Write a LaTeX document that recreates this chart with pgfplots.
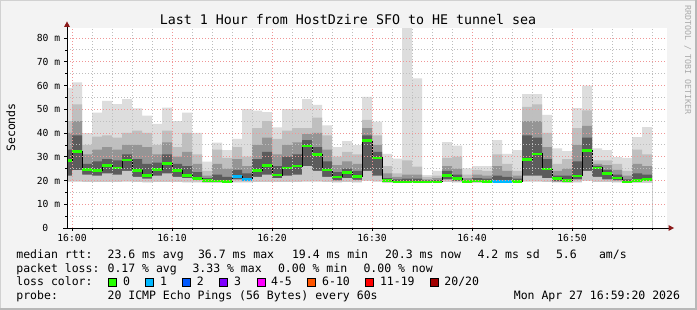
\documentclass[border=0pt]{standalone}
\usepackage{pgfplots}
\pgfplotsset{compat=1.18}
\usepackage{pgfplotstable}
\usepackage{fontspec}
\setmainfont{DejaVu Sans Mono}
\definecolor{bgc}{HTML}{F3F3F3}
\definecolor{s1}{HTML}{DDDDDD}
\definecolor{s2}{HTML}{BFBFBF}
\definecolor{s3}{HTML}{959595}
\definecolor{s4}{HTML}{5C5C5C}
\definecolor{s0}{HTML}{C8C8C8}
\definecolor{lc0}{HTML}{26FF00}
\definecolor{lc1}{HTML}{00B8FF}
\definecolor{lc2}{HTML}{0059FF}
\definecolor{lc3}{HTML}{7E00FF}
\definecolor{lc4}{HTML}{FF00FF}
\definecolor{lc5}{HTML}{FF5500}
\definecolor{lc6}{HTML}{FF0000}
\definecolor{lc7}{HTML}{A10000}
\definecolor{mgrid}{HTML}{F09696}
\definecolor{ngrid}{HTML}{BEBEBE}
\definecolor{arr}{HTML}{8B1A1A}
\definecolor{wm}{HTML}{AAAAAA}

\pgfplotstableread{
t mn lo med hi1 hi2 hi3 mx
-1 19.5 22 28.5 33 40 45 59
0 19.5 24.4 32.1 39 45 52 61.3
1 19.3 22.5 24.6 27 31 35 39.9
2 19.3 22 24.3 28 33 38.5 48.6
3 19.3 23 26.4 29 34 39 53.5
4 19.3 22.5 25.3 28.5 33 38 52.2
5 19.5 24 28.6 31 35 40 54.3
6 19.3 21.5 24.1 29 35 41 50.4
7 19.2 20.8 22.2 27 34 40 47.3
8 19.3 22 24.6 27.5 31 35 43.8
9 19.3 23 27.1 31 36 41 50.7
10 19.3 21.5 24.3 27 30 34 45
11 19.2 21 22.2 26 32 40 48.6
12 19.2 20.3 20.9 23.5 27 31 40.1
13 19.0 19.6 19.9 21 22 24 27.9
14 19.0 19.5 19.8 22.5 27 33 35.9
15 19.0 19.3 19.5 21.5 25 29.5 32.8
16 19.2 20.5 21.6 24.5 29 34 37.5
17 19.2 20 20.5 23 26 30 50.1
18 19.3 21.5 24.1 29 35 42 49.4
19 19.3 22.5 26.4 32 38 45 48.8
20 19.3 21 22.3 26 31 37.5 42.4
21 19.3 22 25.3 30 35 41 50.1
22 19.3 22.5 26.1 31 36 42 50.1
23 19.5 26 34.5 37 39.5 42 54.3
24 19.5 24 30.9 34 40 46.5 51.8
25 19.3 21.5 24.4 28 33 39 43.2
26 19.2 20 21.5 23.5 26.5 30 34.1
27 19.3 21 23.3 25 28 32 36.6
28 19.2 20.3 21.8 24 27 31 34.9
29 19.8 24 36.8 39 42 45.5 55.2
30 19.5 22 29.5 32 35 39 44.8
31 19.0 19.6 19.9 21 23 26 31.2
32 19.0 19.3 19.4 20.5 21.5 23 29.2
33 19.0 19.3 19.4 20.8 22.5 28.5 84.2
34 19.0 19.3 19.4 20.8 22.5 25.8 63
35 19.0 19.3 19.4 20 20.5 21.5 22.3
36 19.0 19.3 19.4 20.2 21 22 24
37 19.3 20.5 22.2 24 26 29.5 36.2
38 19.2 19.8 20.8 22.5 25 30 34.7
39 19.0 19.3 19.5 20.3 21 22.5 25.1
40 19.0 19.4 19.8 21 22.5 24.5 26
41 19.0 19.3 19.6 20.8 22 24 26
42 19.0 19.3 19.6 22 26 31 37
43 19.0 19.3 19.6 21.5 24 27 31.2
44 19.0 19.3 19.6 20.8 22 24 32.8
45 19.5 22 28.9 39 45 51 56.4
46 19.5 22 31.2 38 45 52 56.4
47 19.3 21 24.8 29 34 40 47.6
48 19.2 19.6 20.8 22 24 27 33.5
49 19.0 19.5 19.9 22 25 29 32.4
50 19.2 20.5 21.9 28 35 42 50.5
51 19.8 24 32.6 38 43 49.5 59.9
52 19.3 21.5 25.3 26.2 27 28.5 33.5
53 19.3 20.5 22.9 24.5 26.5 28.5 32.8
54 19.2 20 21.1 22.5 24.5 27 29.8
55 19.0 19.2 19.4 20.5 22 24 29.5
56 19.0 19.5 19.9 23 27 33 38.3
57 19.0 19.8 20.3 22.5 26 31 42.5
58 19.0 19.8 20.3 22.5 26 31 42.5
}\smoke

\newcommand\lf{\fontsize{11.5bp}{13bp}\selectfont}
\newcommand\af{\fontsize{9.7bp}{11bp}\selectfont}

\begin{document}
\begin{tikzpicture}[txt/.style={inner sep=0pt, outer sep=0pt, font=\lf}]
% canvas
\fill[bgc] (0,0) rectangle (697bp,310bp);
\fill[black!18] (0,309bp) rectangle (697bp,310bp);
\fill[black!18] (0,0) rectangle (1bp,310bp);
\fill[black!28] (695bp,0) rectangle (697bp,310bp);
\fill[black!28] (0,0) rectangle (697bp,2bp);

\begin{axis}[
  at={(67bp,82bp)}, anchor=south west,
  scale only axis, width=600bp, height=200bp,
  xmin=-0.5, xmax=59.5, ymin=0, ymax=84.21,
  enlargelimits=false,
  axis background/.style={fill=white},
  axis x line*=bottom, axis y line*=left,
  axis line style={black, line width=0.9bp},
  xtick={0,10,20,30,40,50},
  minor xtick={2,4,6,8,12,14,16,18,22,24,26,28,32,34,36,38,42,44,46,48,52,54,56,58},
  ytick={10,20,30,40,50,60,70,80},
  minor ytick={5,15,25,35,45,55,65,75},
  xticklabels={}, yticklabels={},
  tick align=outside,
  major tick length=3bp, minor tick length=2bp,
  tick style={black, line width=0.7bp},
  grid=both,
  major grid style={draw=mgrid, dash pattern=on 1bp off 2bp, line width=0.8bp},
  minor grid style={draw=ngrid, dash pattern=on 1bp off 2bp, line width=0.8bp},
  axis on top,
]
\addplot[draw=none, fill=s1, const plot mark left] table[x=t, y=mx] {\smoke} \closedcycle;
\addplot[draw=none, fill=s2, const plot mark left] table[x=t, y=hi3] {\smoke} \closedcycle;
\addplot[draw=none, fill=s3, const plot mark left] table[x=t, y=hi2] {\smoke} \closedcycle;
\addplot[draw=none, fill=s4, const plot mark left] table[x=t, y=hi1] {\smoke} \closedcycle;
\addplot[draw=none, fill=s0, const plot mark left] table[x=t, y=lo] {\smoke} \closedcycle;
\addplot[draw=none, fill=white, const plot mark left] table[x=t, y=mn] {\smoke} \closedcycle;
\addplot[black, line width=1bp, const plot mark left] table[x=t, y=med] {\smoke};
\addplot[lc0, line width=2.7bp, jump mark left] table[x=t, y=med] {\smoke};
\addplot[lc1, line width=2.7bp, jump mark left] coordinates {(16,21.6) (17,20.5) (18,20.5)};
\addplot[lc1, line width=2.7bp, jump mark left] coordinates {(42,19.6) (43,19.6) (44,19.6)};
\end{axis}

% axis arrows
\draw[black, line width=0.9bp] (63bp,82bp) -- (669bp,82bp);
\fill[arr] (674bp,82bp) -- (668.5bp,85bp) -- (668.5bp,79bp) -- cycle;
\draw[black, line width=0.9bp] (67bp,282bp) -- (67bp,284bp);
\fill[arr] (67bp,288.5bp) -- (64bp,283bp) -- (70bp,283bp) -- cycle;

% title
\node[txt, anchor=base, font=\fontsize{13.3bp}{15bp}\selectfont] at (348bp,285.3bp) {Last 1 Hour from HostDzire SFO to HE tunnel sea};

% watermark
\node[txt, anchor=base, rotate=-90, text=wm, font=\fontsize{8.3bp}{9bp}\selectfont] at (685bp,250bp) {RRDTOOL / TOBI OETIKER};

% y label
\node[txt, anchor=base, rotate=90] at (15bp,182.5bp) {Seconds};

% y tick labels
\node[txt, anchor=east, font=\af] at (48.2bp,82bp) {0};
\node[txt, anchor=east, font=\af] at (60.2bp,105.75bp) {10 m};
\node[txt, anchor=east, font=\af] at (60.2bp,129.5bp) {20 m};
\node[txt, anchor=east, font=\af] at (60.2bp,153.25bp) {30 m};
\node[txt, anchor=east, font=\af] at (60.2bp,177bp) {40 m};
\node[txt, anchor=east, font=\af] at (60.2bp,200.75bp) {50 m};
\node[txt, anchor=east, font=\af] at (60.2bp,224.5bp) {60 m};
\node[txt, anchor=east, font=\af] at (60.2bp,248.25bp) {70 m};
\node[txt, anchor=east, font=\af] at (60.2bp,272bp) {80 m};

% x tick labels
\node[txt, anchor=base, font=\af] at (72bp,68.8bp) {16:00};
\node[txt, anchor=base, font=\af] at (172bp,68.8bp) {16:10};
\node[txt, anchor=base, font=\af] at (272bp,68.8bp) {16:20};
\node[txt, anchor=base, font=\af] at (372bp,68.8bp) {16:30};
\node[txt, anchor=base, font=\af] at (472bp,68.8bp) {16:40};
\node[txt, anchor=base, font=\af] at (572bp,68.8bp) {16:50};

% legend row 1
\node[txt, anchor=base west] at (16.4bp,51.7bp) {median rtt:};
\node[txt, anchor=base west] at (107.6bp,51.7bp) {23.6 ms avg};
\node[txt, anchor=base west] at (198bp,51.7bp) {36.7 ms max};
\node[txt, anchor=base west] at (292bp,51.7bp) {19.4 ms min};
\node[txt, anchor=base west] at (385bp,51.7bp) {20.3 ms now};
\node[txt, anchor=base west] at (477.5bp,51.7bp) {4.2 ms sd};
\node[txt, anchor=base west] at (556bp,51.7bp) {5.6};
\node[txt, anchor=base west] at (599bp,51.7bp) {am/s};
% row 2
\node[txt, anchor=base west] at (16.4bp,37.9bp) {packet loss:};
\node[txt, anchor=base west] at (107.6bp,37.9bp) {0.17 \% avg};
\node[txt, anchor=base west] at (192.5bp,37.9bp) {3.33 \% max};
\node[txt, anchor=base west] at (278bp,37.9bp) {0.00 \% min};
\node[txt, anchor=base west] at (363.5bp,37.9bp) {0.00 \% now};
% row 3
\node[txt, anchor=base west] at (16.4bp,24.1bp) {loss color:};
\filldraw[fill=lc0, draw=black, line width=0.8bp] (108.4bp,23.6bp) rectangle (116.4bp,31.6bp);
\node[txt, anchor=base west] at (123.1bp,24.1bp) {0};
\filldraw[fill=lc1, draw=black, line width=0.8bp] (145.3bp,23.6bp) rectangle (153.3bp,31.6bp);
\node[txt, anchor=base west] at (160bp,24.1bp) {1};
\filldraw[fill=lc2, draw=black, line width=0.8bp] (182.2bp,23.6bp) rectangle (190.2bp,31.6bp);
\node[txt, anchor=base west] at (196.9bp,24.1bp) {2};
\filldraw[fill=lc3, draw=black, line width=0.8bp] (219.6bp,23.6bp) rectangle (227.6bp,31.6bp);
\node[txt, anchor=base west] at (234.2bp,24.1bp) {3};
\filldraw[fill=lc4, draw=black, line width=0.8bp] (256.9bp,23.6bp) rectangle (264.9bp,31.6bp);
\node[txt, anchor=base west] at (271.1bp,24.1bp) {4-5};
\filldraw[fill=lc5, draw=black, line width=0.8bp] (307.6bp,23.6bp) rectangle (315.6bp,31.6bp);
\node[txt, anchor=base west] at (322.2bp,24.1bp) {6-10};
\filldraw[fill=lc6, draw=black, line width=0.8bp] (365.3bp,23.6bp) rectangle (373.3bp,31.6bp);
\node[txt, anchor=base west] at (380bp,24.1bp) {11-19};
\filldraw[fill=lc7, draw=black, line width=0.8bp] (430.2bp,23.6bp) rectangle (438.2bp,31.6bp);
\node[txt, anchor=base west] at (444.4bp,24.1bp) {20/20};
% row 4
\node[txt, anchor=base west] at (16.4bp,10.3bp) {probe:};
\node[txt, anchor=base west] at (107.6bp,10.3bp) {20 ICMP Echo Pings (56 Bytes) every 60s};
\node[txt, anchor=base east] at (680bp,10.3bp) {Mon Apr 27 16:59:20 2026};
\end{tikzpicture}
\end{document}
